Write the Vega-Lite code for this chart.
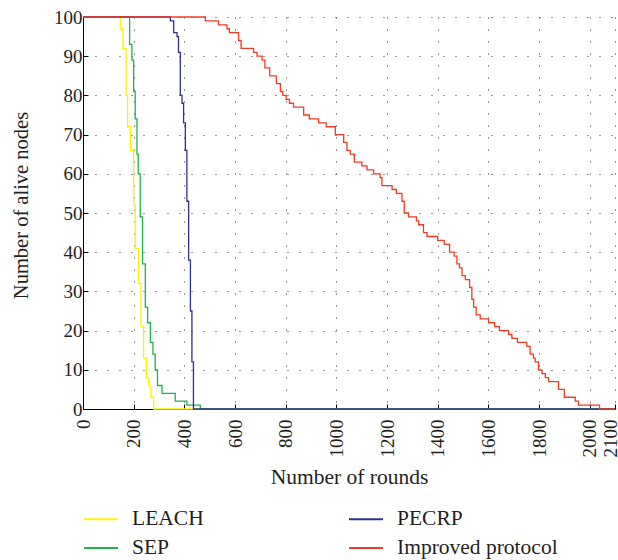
{
  "$schema": "https://vega.github.io/schema/vega-lite/v6.json",
  "width": 532,
  "height": 392,
  "autosize": {"type": "none"},
  "padding": {"left": 83, "top": 17, "right": 3, "bottom": 151},
  "background": "white",
  "config": {"view": {"stroke": null}, "font": "Liberation Serif"},
  "data": {"values": [
    {"protocol": "LEACH", "round": 0, "alive": 100},{"protocol": "LEACH", "round": 136, "alive": 100},{"protocol": "LEACH", "round": 147, "alive": 97},{"protocol": "LEACH", "round": 158, "alive": 92},{"protocol": "LEACH", "round": 170, "alive": 80},{"protocol": "LEACH", "round": 176, "alive": 72},{"protocol": "LEACH", "round": 187, "alive": 66},{"protocol": "LEACH", "round": 200, "alive": 52},{"protocol": "LEACH", "round": 206, "alive": 41},{"protocol": "LEACH", "round": 219, "alive": 32},{"protocol": "LEACH", "round": 229, "alive": 21},{"protocol": "LEACH", "round": 239, "alive": 13},{"protocol": "LEACH", "round": 250, "alive": 8},{"protocol": "LEACH", "round": 259, "alive": 6},{"protocol": "LEACH", "round": 268, "alive": 3},{"protocol": "LEACH", "round": 279, "alive": 0},{"protocol": "LEACH", "round": 2100, "alive": 0},
    {"protocol": "SEP", "round": 0, "alive": 100},{"protocol": "SEP", "round": 178, "alive": 100},{"protocol": "SEP", "round": 184, "alive": 93},{"protocol": "SEP", "round": 193, "alive": 89},{"protocol": "SEP", "round": 200, "alive": 81},{"protocol": "SEP", "round": 206, "alive": 74},{"protocol": "SEP", "round": 213, "alive": 65},{"protocol": "SEP", "round": 218, "alive": 60},{"protocol": "SEP", "round": 226, "alive": 49},{"protocol": "SEP", "round": 235, "alive": 37},{"protocol": "SEP", "round": 246, "alive": 26},{"protocol": "SEP", "round": 255, "alive": 22},{"protocol": "SEP", "round": 266, "alive": 17},{"protocol": "SEP", "round": 276, "alive": 14},{"protocol": "SEP", "round": 285, "alive": 10},{"protocol": "SEP", "round": 294, "alive": 6},{"protocol": "SEP", "round": 312, "alive": 4},{"protocol": "SEP", "round": 364, "alive": 2},{"protocol": "SEP", "round": 410, "alive": 1},{"protocol": "SEP", "round": 463, "alive": 0},{"protocol": "SEP", "round": 2100, "alive": 0},
    {"protocol": "PECRP", "round": 0, "alive": 100},{"protocol": "PECRP", "round": 338, "alive": 100},{"protocol": "PECRP", "round": 345, "alive": 99},{"protocol": "PECRP", "round": 358, "alive": 96},{"protocol": "PECRP", "round": 371, "alive": 95},{"protocol": "PECRP", "round": 377, "alive": 91},{"protocol": "PECRP", "round": 384, "alive": 80},{"protocol": "PECRP", "round": 391, "alive": 78},{"protocol": "PECRP", "round": 397, "alive": 73},{"protocol": "PECRP", "round": 404, "alive": 66},{"protocol": "PECRP", "round": 410, "alive": 53},{"protocol": "PECRP", "round": 417, "alive": 38},{"protocol": "PECRP", "round": 424, "alive": 25},{"protocol": "PECRP", "round": 430, "alive": 12},{"protocol": "PECRP", "round": 436, "alive": 0},{"protocol": "PECRP", "round": 2100, "alive": 0},
    {"protocol": "Improved protocol", "round": 0, "alive": 100},{"protocol": "Improved protocol", "round": 483, "alive": 99},{"protocol": "Improved protocol", "round": 535, "alive": 98},{"protocol": "Improved protocol", "round": 568, "alive": 97},{"protocol": "Improved protocol", "round": 578, "alive": 96},{"protocol": "Improved protocol", "round": 614, "alive": 94},{"protocol": "Improved protocol", "round": 624, "alive": 92},{"protocol": "Improved protocol", "round": 673, "alive": 91},{"protocol": "Improved protocol", "round": 687, "alive": 90},{"protocol": "Improved protocol", "round": 707, "alive": 89},{"protocol": "Improved protocol", "round": 718, "alive": 87},{"protocol": "Improved protocol", "round": 737, "alive": 85},{"protocol": "Improved protocol", "round": 763, "alive": 83},{"protocol": "Improved protocol", "round": 779, "alive": 81},{"protocol": "Improved protocol", "round": 789, "alive": 80},{"protocol": "Improved protocol", "round": 802, "alive": 79},{"protocol": "Improved protocol", "round": 815, "alive": 78},{"protocol": "Improved protocol", "round": 831, "alive": 77},{"protocol": "Improved protocol", "round": 871, "alive": 75},{"protocol": "Improved protocol", "round": 893, "alive": 74},{"protocol": "Improved protocol", "round": 930, "alive": 73},{"protocol": "Improved protocol", "round": 960, "alive": 72},{"protocol": "Improved protocol", "round": 996, "alive": 70},{"protocol": "Improved protocol", "round": 1029, "alive": 68},{"protocol": "Improved protocol", "round": 1042, "alive": 66},{"protocol": "Improved protocol", "round": 1055, "alive": 65},{"protocol": "Improved protocol", "round": 1071, "alive": 63},{"protocol": "Improved protocol", "round": 1101, "alive": 62},{"protocol": "Improved protocol", "round": 1121, "alive": 61},{"protocol": "Improved protocol", "round": 1147, "alive": 60},{"protocol": "Improved protocol", "round": 1173, "alive": 59},{"protocol": "Improved protocol", "round": 1180, "alive": 57},{"protocol": "Improved protocol", "round": 1220, "alive": 56},{"protocol": "Improved protocol", "round": 1237, "alive": 55},{"protocol": "Improved protocol", "round": 1259, "alive": 53},{"protocol": "Improved protocol", "round": 1268, "alive": 50},{"protocol": "Improved protocol", "round": 1285, "alive": 49},{"protocol": "Improved protocol", "round": 1316, "alive": 48},{"protocol": "Improved protocol", "round": 1325, "alive": 47},{"protocol": "Improved protocol", "round": 1344, "alive": 45},{"protocol": "Improved protocol", "round": 1358, "alive": 44},{"protocol": "Improved protocol", "round": 1400, "alive": 43},{"protocol": "Improved protocol", "round": 1426, "alive": 42},{"protocol": "Improved protocol", "round": 1447, "alive": 40},{"protocol": "Improved protocol", "round": 1465, "alive": 39},{"protocol": "Improved protocol", "round": 1476, "alive": 37},{"protocol": "Improved protocol", "round": 1486, "alive": 36},{"protocol": "Improved protocol", "round": 1496, "alive": 34},{"protocol": "Improved protocol", "round": 1509, "alive": 33},{"protocol": "Improved protocol", "round": 1526, "alive": 31},{"protocol": "Improved protocol", "round": 1535, "alive": 28},{"protocol": "Improved protocol", "round": 1542, "alive": 26},{"protocol": "Improved protocol", "round": 1552, "alive": 24},{"protocol": "Improved protocol", "round": 1568, "alive": 23},{"protocol": "Improved protocol", "round": 1601, "alive": 22},{"protocol": "Improved protocol", "round": 1625, "alive": 21},{"protocol": "Improved protocol", "round": 1644, "alive": 20},{"protocol": "Improved protocol", "round": 1680, "alive": 19},{"protocol": "Improved protocol", "round": 1693, "alive": 18},{"protocol": "Improved protocol", "round": 1715, "alive": 17},{"protocol": "Improved protocol", "round": 1752, "alive": 16},{"protocol": "Improved protocol", "round": 1765, "alive": 14},{"protocol": "Improved protocol", "round": 1778, "alive": 13},{"protocol": "Improved protocol", "round": 1785, "alive": 12},{"protocol": "Improved protocol", "round": 1798, "alive": 10},{"protocol": "Improved protocol", "round": 1812, "alive": 9},{"protocol": "Improved protocol", "round": 1825, "alive": 8},{"protocol": "Improved protocol", "round": 1838, "alive": 7},{"protocol": "Improved protocol", "round": 1877, "alive": 5},{"protocol": "Improved protocol", "round": 1900, "alive": 3},{"protocol": "Improved protocol", "round": 1943, "alive": 2},{"protocol": "Improved protocol", "round": 1956, "alive": 1},{"protocol": "Improved protocol", "round": 2039, "alive": 0},{"protocol": "Improved protocol", "round": 2100, "alive": 0}
  ]},
  "mark": {"type": "line", "interpolate": "step-after", "strokeWidth": 1.3},
  "encoding": {
    "x": {
      "field": "round", "type": "quantitative",
      "scale": {"domain": [0, 2100], "nice": false, "zero": false},
      "axis": {
        "values": [0, 200, 400, 600, 800, 1000, 1200, 1400, 1600, 1800, 2000, 2100],
        "format": "d",
        "labelAngle": 270, "labelAlign": "right", "labelBaseline": "middle",
        "labelFontSize": 19, "labelColor": "#231f20", "labelPadding": 15,
        "labelOffset": {"condition": {"test": "datum.value == 2100", "value": -5}, "value": 0},
        "labelOverlap": false, "labelFlush": false,
        "tickSize": -5, "tickColor": "#000", "domainColor": "#000",
        "grid": true, "gridDash": [1, 11], "gridColor": "#222", "gridOpacity": 0.9,
        "title": "Number of rounds", "titleFontSize": 21.5, "titleFontWeight": "normal",
        "titleColor": "#231f20", "titleY": 68, "titleBaseline": "middle"
      }
    },
    "y": {
      "field": "alive", "type": "quantitative",
      "scale": {"domain": [0, 100], "nice": false},
      "axis": {
        "values": [0, 10, 20, 30, 40, 50, 60, 70, 80, 90, 100],
        "format": "d",
        "labelFontSize": 19, "labelColor": "#231f20", "labelPadding": 6,
        "labelOverlap": false, "labelFlush": false,
        "tickSize": -5, "tickColor": "#000", "domainColor": "#000",
        "grid": true, "gridDash": [1, 11], "gridColor": "#222", "gridOpacity": 0.9,
        "title": "Number of alive nodes", "titleFontSize": 20.5, "titleFontWeight": "normal",
        "titleColor": "#231f20", "titleX": -62, "titleY": 188, "titleAngle": 270,
        "titleAlign": "center", "titleBaseline": "middle"
      }
    },
    "color": {
      "field": "protocol", "type": "nominal",
      "scale": {"domain": ["LEACH", "SEP", "PECRP", "Improved protocol"], "range": ["#fff200", "#22b14c", "#2e3192", "#f03c24"]},
      "legend": {
        "orient": "none", "legendX": 0, "legendY": 484, "columns": 2,
        "title": null, "symbolType": "stroke", "symbolSize": 1156, "symbolStrokeWidth": 2,
        "labelFontSize": 21.5, "labelColor": "#231f20", "labelOffset": 13, "labelLimit": 300,
        "columnPadding": 141, "rowPadding": -7
      }
    }
  }
}
